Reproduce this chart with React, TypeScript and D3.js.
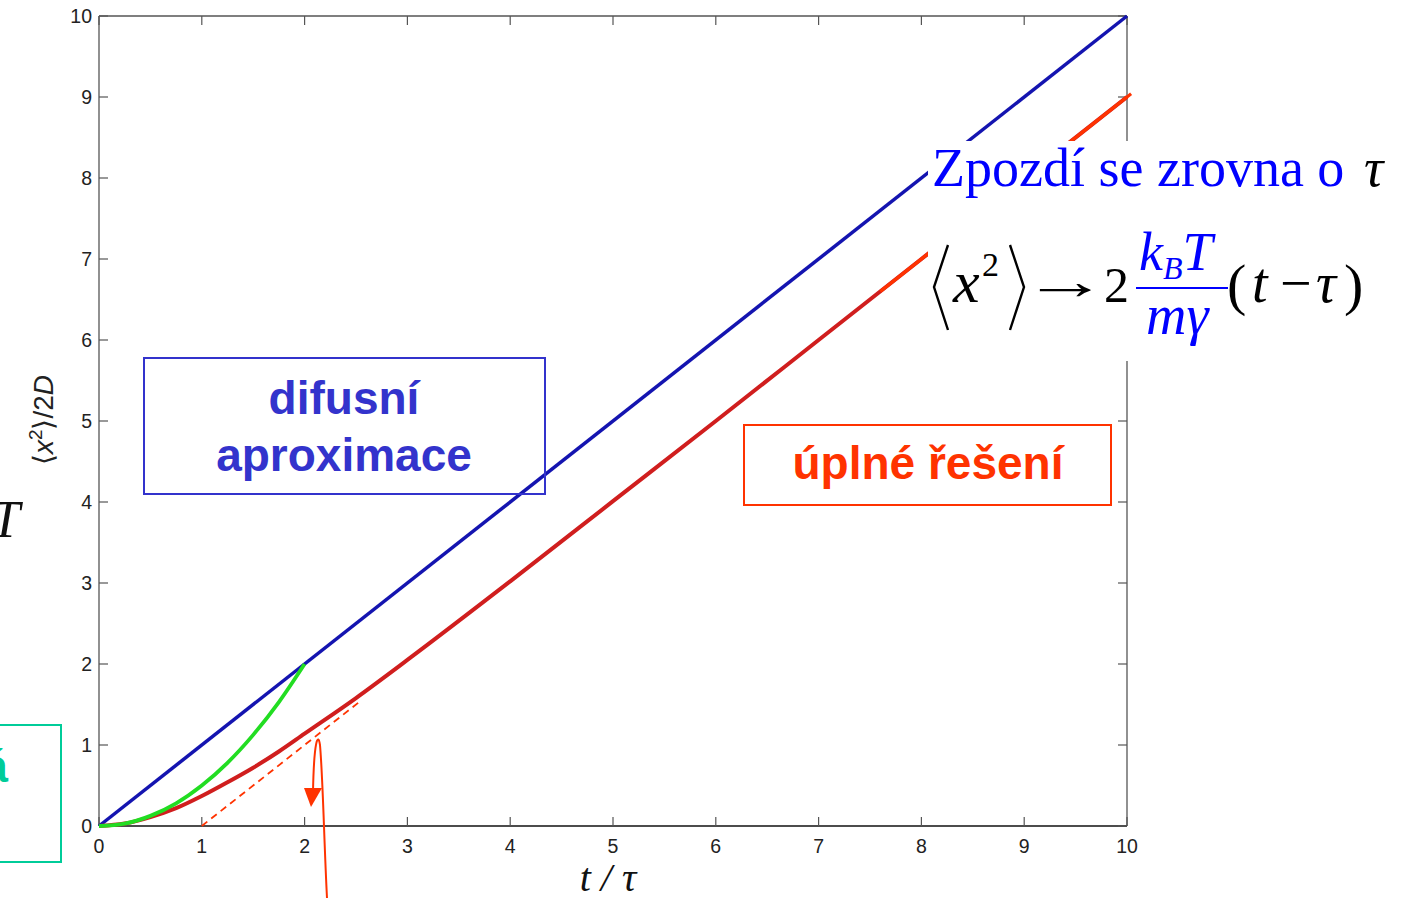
import React from "react";
import * as d3 from "d3";

const tickValues = [0, 1, 2, 3, 4, 5, 6, 7, 8, 9, 10];

const blueT = [0, 10];
const blueY = [0, 10];

const greenT = [0, 0.25, 0.5, 0.75, 1, 1.25, 1.5, 1.75, 2];
const greenY = [0, 0.03, 0.125, 0.28, 0.5, 0.78, 1.125, 1.53, 2];

const redT = [0, 0.25, 0.5, 0.75, 1, 1.25, 1.5, 1.75, 2, 2.5, 3, 4, 5, 6, 7, 8, 9, 10];
const redY = [0, 0.03, 0.11, 0.22, 0.37, 0.54, 0.72, 0.92, 1.14, 1.58, 2.05, 3.02, 4.01, 5.0, 6.0, 7.0, 8.0, 9.0];

const asymT = [1, 2.55];
const asymY = [0, 1.55];

const overlayT = [7.6, 10.04];
const overlayY = [6.6, 9.04];

const W = 1401;
const H = 898;

export default function App() {
  const x = d3.scaleLinear().domain([0, 10]).range([99, 1127]);
  const y = d3.scaleLinear().domain([0, 10]).range([826, 16]);

  const line = d3
    .line<[number, number]>()
    .x((d) => x(d[0]))
    .y((d) => y(d[1]))
    .curve(d3.curveMonotoneX);

  const zip = (a: number[], b: number[]) => a.map((v, i) => [v, b[i]] as [number, number]);

  const axisGray = "#555";
  const sans = "'Liberation Sans', Arial, Helvetica, sans-serif";
  const serif = "'Liberation Serif', 'Times New Roman', serif";

  return (
    <svg
      width={W}
      height={H}
      style={{ position: "absolute", left: 0, top: 0, background: "#fff" }}
    >
      <rect x={0} y={0} width={W} height={H} fill="#fff" />

      {/* frame */}
      <line x1={x(0)} x2={x(10)} y1={y(10)} y2={y(10)} stroke={axisGray} strokeWidth={1.3} />
      <line x1={x(10)} x2={x(10)} y1={y(10)} y2={y(0)} stroke={axisGray} strokeWidth={1.3} />
      <line x1={x(0)} x2={x(0)} y1={y(10)} y2={y(0)} stroke={axisGray} strokeWidth={1.3} />
      <line x1={x(0)} x2={x(10)} y1={y(0)} y2={y(0)} stroke="#111" strokeWidth={1.3} />

      {/* ticks */}
      {tickValues.map((t) => (
        <g key={"t" + t}>
          <line x1={x(t)} x2={x(t)} y1={y(0)} y2={y(0) - 9} stroke={axisGray} strokeWidth={1.2} />
          <line x1={x(t)} x2={x(t)} y1={y(10)} y2={y(10) + 9} stroke={axisGray} strokeWidth={1.2} />
          <line x1={x(0)} x2={x(0) + 9} y1={y(t)} y2={y(t)} stroke={axisGray} strokeWidth={1.2} />
          <line x1={x(10)} x2={x(10) - 9} y1={y(t)} y2={y(t)} stroke={axisGray} strokeWidth={1.2} />
          <text x={x(t)} y={853} textAnchor="middle" fontFamily={sans} fontSize={19.5} fill="#222">
            {t}
          </text>
          <text x={92} y={y(t) + 7} textAnchor="end" fontFamily={sans} fontSize={19.5} fill="#222">
            {t}
          </text>
        </g>
      ))}

      {/* y label */}
      <text
        transform={`translate(53,420) rotate(-90)`}
        textAnchor="middle"
        fontFamily={sans}
        fontSize={28}
        fill="#222"
      >
        ⟨<tspan fontStyle="italic">x</tspan>
        <tspan dy={-11} fontSize={19}>2</tspan>
        <tspan dy={11}>⟩/2</tspan>
        <tspan fontStyle="italic">D</tspan>
      </text>

      {/* x label */}
      <text x={608} y={891} textAnchor="middle" fontFamily={serif} fontStyle="italic" fontSize={40} fill="#111">
        t / τ
      </text>

      {/* curves */}
      <path d={line(zip(blueT, blueY)) || ""} fill="none" stroke="#1414b0" strokeWidth={3.5} />
      <path d={line(zip(redT, redY)) || ""} fill="none" stroke="#d01e1e" strokeWidth={4} />
      <path d={line(zip(greenT, greenY)) || ""} fill="none" stroke="#22dd22" strokeWidth={3.8} />
      <path
        d={line(zip(asymT, asymY)) || ""}
        fill="none"
        stroke="#ff3300"
        strokeWidth={1.8}
        strokeDasharray="7,5"
      />
      <path d={line(zip(overlayT, overlayY)) || ""} fill="none" stroke="#ff3300" strokeWidth={3.2} />

      {/* arrow annotation */}
      <path
        d="M327,898 C324,840 323,780 320,745 C318,732 314,740 313,792"
        fill="none"
        stroke="#ff3300"
        strokeWidth={2}
      />
      <path d="M304,788 L322,788 L311,807 Z" fill="#ff3300" />

      {/* blue box */}
      <rect x={144} y={358} width={401} height={136} fill="none" stroke="#3333cc" strokeWidth={2} />
      <text x={344} y={414} textAnchor="middle" fontFamily={sans} fontWeight="bold" fontSize={46} fill="#3333cc">
        difusní
      </text>
      <text x={344} y={471} textAnchor="middle" fontFamily={sans} fontWeight="bold" fontSize={46} fill="#3333cc">
        aproximace
      </text>

      {/* red box */}
      <rect x={744} y={425} width={367} height={80} fill="none" stroke="#ff3300" strokeWidth={2} />
      <text x={928} y={479} textAnchor="middle" fontFamily={sans} fontWeight="bold" fontSize={46} fill="#ff3300">
        úplné řešení
      </text>

      {/* green box (cut off) */}
      <rect x={-20} y={725} width={81} height={137} fill="none" stroke="#00cc99" strokeWidth={2} />
      <text x={8} y={782} textAnchor="end" fontFamily={sans} fontWeight="bold" fontSize={46} fill="#00cc99">
        á
      </text>

      {/* T (cut off) */}
      <text x={20} y={537} textAnchor="end" fontFamily={serif} fontStyle="italic" fontSize={52} fill="#111">
        T
      </text>

      {/* formula overlay */}
      <rect x={928} y={141} width={473} height={220} fill="#fff" />
      <text x={932} y={186} fontFamily={serif} fontSize={54} fill="#0000ff">
        Zpozdí se zrovna o
      </text>
      <text x={1364} y={186} fontFamily={serif} fontStyle="italic" fontSize={54} fill="#000">
        τ
      </text>

      {/* big angle brackets */}
      <path d="M948,245 L934,287 L948,330" fill="none" stroke="#000" strokeWidth={2.4} />
      <path d="M1010,245 L1024,287 L1010,330" fill="none" stroke="#000" strokeWidth={2.4} />
      <text x={953} y={302} fontFamily={serif} fontStyle="italic" fontSize={60} fill="#000">
        x
      </text>
      <text x={982} y={276} fontFamily={serif} fontSize={34} fill="#000">
        2
      </text>
      <text transform="translate(1022,299) scale(1.65,1)" fontFamily={serif} fontSize={52} fill="#000">
        →
      </text>
      <text x={1104} y={302} fontFamily={serif} fontSize={50} fill="#000">
        2
      </text>
      <text x={1139} y={270} fontFamily={serif} fontStyle="italic" fontSize={54} fill="#0000ff">
        k
        <tspan dy={9} fontSize={32}>B</tspan>
        <tspan dy={-9}>T</tspan>
      </text>
      <line x1={1136} x2={1228} y1={288} y2={288} stroke="#0000ff" strokeWidth={2.2} />
      <text x={1146} y={334} fontFamily={serif} fontStyle="italic" fontSize={56} fill="#0000ff">
        mγ
      </text>
      <text x={1227} y={304} fontFamily={serif} fontSize={58} fill="#000">
        (
      </text>
      <text x={1252} y={302} fontFamily={serif} fontStyle="italic" fontSize={56} fill="#000">
        t
      </text>
      <text x={1280} y={302} fontFamily={serif} fontSize={56} fill="#000">
        −
      </text>
      <text x={1316} y={302} fontFamily={serif} fontStyle="italic" fontSize={56} fill="#000">
        τ
      </text>
      <text x={1344} y={304} fontFamily={serif} fontSize={58} fill="#000">
        )
      </text>
    </svg>
  );
}
